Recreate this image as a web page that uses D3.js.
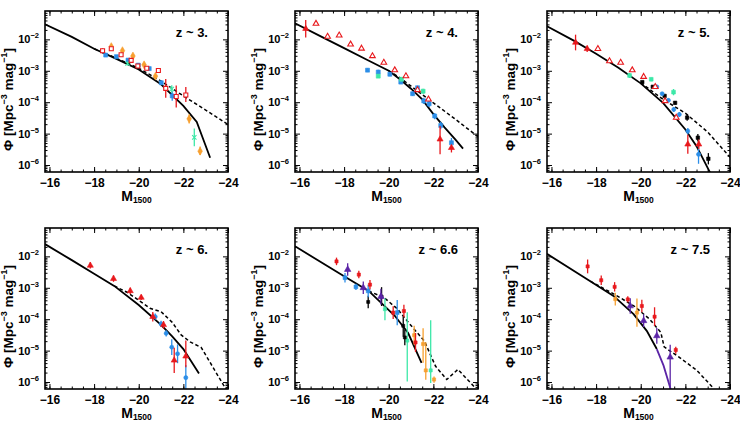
<!DOCTYPE html>
<html>
<head>
<meta charset="utf-8">
<script src="https://cdn.jsdelivr.net/npm/d3@7"></script>
<style>
body { margin: 0; background: #fff; }
text { font-family: "Liberation Sans", Arial, Helvetica, sans-serif; font-weight: bold; }
</style>
</head>
<body>
<div id="chart"></div>
<script>
// panel labels and ticks
var panelLabels = ["z ~ 3.", "z ~ 4.", "z ~ 5.", "z ~ 6.", "z ~ 6.6", "z ~ 7.5"];
var xTicks = [-16, -18, -20, -22, -24];
var xMinorTicks = d3.range(-16, -24.01, -0.5);
var yTickExps = [-2, -3, -4, -5, -6];

// model curves: [M1500, log10 Phi]
var z3Solid = [[-15.8,-1.52],[-17,-1.92],[-18,-2.30],[-19,-2.62],[-20,-2.96],[-21,-3.43],[-22,-4.12],[-22.6,-4.63],[-23.2,-5.77]];
var z3Dashed = [[-18,-2.30],[-19,-2.60],[-20,-2.92],[-21,-3.33],[-22,-3.80],[-23,-4.25],[-24,-4.71]];
var z4Solid = [[-15.8,-1.49],[-17,-1.92],[-18,-2.28],[-19,-2.64],[-20,-3.0],[-20.5,-3.27],[-21,-3.57],[-21.5,-3.91],[-22,-4.38],[-22.5,-4.8],[-23,-5.2],[-23.33,-5.48]];
var z4Dashed = [[-20,-3.0],[-20.5,-3.22],[-21,-3.49],[-22,-4.02],[-23,-4.55],[-24,-5.1]];
var z5Solid = [[-15.8,-1.58],[-17,-2.04],[-18,-2.46],[-19,-2.90],[-20,-3.40],[-21,-4.02],[-22,-4.87],[-22.5,-5.40],[-23.15,-6.3]];
var z5Dashed = [[-20,-3.38],[-21,-3.91],[-22,-4.35],[-23,-4.95],[-23.5,-5.35],[-24,-5.75]];
var z6Solid = [[-15.8,-1.61],[-17,-2.12],[-18,-2.55],[-18.9,-2.94],[-20,-3.55],[-21,-4.18],[-21.5,-4.55],[-22,-4.95],[-22.7,-5.73]];
var z6Dashed = [[-18.9,-2.94],[-19.5,-3.15],[-20,-3.4],[-20.5,-3.65],[-21,-3.76],[-21.5,-4.1],[-21.9,-4.5],[-22.3,-4.72],[-22.8,-4.9],[-23.8,-6.1],[-24,-6.3]];
var z66Solid = [[-15.8,-1.68],[-18,-2.63],[-19.1,-3.1],[-20.27,-3.89],[-20.87,-4.44],[-21.47,-5.39]];
var z66Dashed = [[-19.1,-3.1],[-19.8,-3.32],[-20.4,-3.68],[-20.9,-4.12],[-21.3,-4.45],[-21.6,-4.7],[-22.1,-5.5],[-22.6,-5.92],[-23.1,-5.6],[-23.9,-6.2]];
var z75Solid = [[-15.8,-1.92],[-17.74,-2.79],[-18.78,-3.26],[-19.68,-3.84],[-20.27,-4.37],[-20.72,-4.95]];
var z75Tail = [[-20.72,-4.95],[-21.02,-5.47],[-21.35,-6.25]];
var z75Dashed = [[-17.74,-2.79],[-18.8,-3.2],[-19.7,-3.58],[-20.4,-4.0],[-20.9,-4.42],[-21.05,-4.88],[-21.7,-5.2],[-22.5,-5.62],[-23.2,-6.15]];

// observed points: [M1500, log10 Phi, error down (dex), error up (dex)]
var z3Red = [[-18.38,-2.36,0.08,0.08],[-18.77,-2.30,0.06,0.06],[-19.21,-2.49,0.06,0.06],[-19.66,-2.67,0.06,0.06],[-19.96,-2.85,0.05,0.05],[-20.36,-2.92,0.05,0.05],[-20.88,-2.99,0.05,0.05],[-21.21,-3.56,0.3,0.3],[-21.68,-3.82,0.35,0.35],[-22.11,-3.77,0.22,0.25]];
var z3Orange = [[-18.77,-2.23,0.05,0.05],[-19.27,-2.36,0.05,0.05],[-19.74,-2.53,0.05,0.05],[-20.24,-2.81,0.05,0.05],[-20.75,-3.17,0.06,0.06],[-22.26,-4.53,0.15,0.15],[-22.75,-5.56,0.12,0.15]];
var z3Blue = [[-18.52,-2.50,0.05,0.05],[-19.0,-2.55,0.04,0.04],[-19.52,-2.66,0.05,0.05],[-19.98,-2.82,0.05,0.05],[-20.47,-2.93,0.05,0.05],[-21.01,-3.38,0.07,0.07],[-21.5,-3.80,0.15,0.15]];
var z3Green = [[-19.5,-2.77,0.06,0.06],[-21.48,-3.58,0.12,0.12],[-22.49,-5.12,0.28,0.28]];

var z4RedOpen = [[-16.74,-1.50,0.04,0.04],[-17.26,-1.91,0.04,0.04],[-17.78,-1.87,0.04,0.04],[-18.29,-2.16,0.04,0.04],[-18.78,-2.29,0.04,0.04],[-19.27,-2.53,0.04,0.04],[-19.78,-2.74,0.04,0.04],[-20.27,-2.98,0.04,0.04],[-20.77,-3.17,0.04,0.04],[-21.29,-3.61,0.05,0.05],[-21.78,-3.91,0.06,0.06]];
var z4RedFilled = [[-16.28,-1.66,0.28,0.28],[-22.3,-5.18,0.48,0.42],[-22.81,-5.45,0.15,0.05]];
var z4Blue = [[-19.05,-2.98,0.06,0.06],[-19.53,-3.04,0.07,0.07],[-20.05,-3.11,0.06,0.06],[-20.54,-3.36,0.06,0.06],[-21.07,-3.73,0.07,0.07],[-21.29,-3.54,0.06,0.06],[-21.57,-3.96,0.1,0.1],[-21.81,-4.05,0.1,0.1],[-22.06,-4.44,0.1,0.1],[-22.33,-4.74,0.12,0.12],[-22.81,-5.29,0.15,0.15]];
var z4Green = [[-19.53,-3.17,0.06,0.06],[-20.57,-3.27,0.06,0.06],[-21.54,-3.65,0.08,0.08]];

var z5RedFilled = [[-17.08,-2.10,0.25,0.25],[-17.6,-2.30,0.1,0.1],[-22.11,-5.34,0.3,0.3],[-22.6,-5.34,0.15,0.15]];
var z5RedOpen = [[-18.08,-2.30,0.04,0.04],[-18.6,-2.69,0.04,0.04],[-19.1,-2.74,0.04,0.04],[-19.62,-2.98,0.04,0.04],[-20.13,-3.19,0.04,0.04],[-20.65,-3.51,0.05,0.05],[-21.09,-3.96,0.06,0.06],[-21.59,-4.49,0.08,0.08]];
var z5Green = [[-19.5,-3.15,0.08,0.08],[-20.47,-3.27,0.06,0.06],[-21.47,-3.68,0.1,0.1]];
var z5Black = [[-20.07,-3.36,0.04,0.04],[-20.54,-3.51,0.05,0.05],[-21.07,-3.80,0.05,0.05],[-21.54,-4.02,0.06,0.06],[-22.08,-4.49,0.1,0.1],[-22.56,-5.13,0.12,0.12],[-23.03,-5.80,0.18,0.18]];
var z5Blue = [[-20.72,-3.51,0.05,0.05],[-20.96,-3.73,0.05,0.05],[-21.24,-3.94,0.06,0.06],[-21.48,-4.23,0.08,0.08],[-21.73,-4.39,0.08,0.08],[-22.11,-4.92,0.1,0.1],[-22.59,-5.66,0.3,0.3]];

var z6Red = [[-17.83,-2.29,0.1,0.1],[-18.87,-2.71,0.1,0.1],[-19.62,-3.10,0.1,0.1],[-20.11,-3.31,0.08,0.08],[-20.63,-3.92,0.15,0.15],[-21.11,-4.18,0.12,0.12],[-21.59,-5.31,0.4,0.4],[-22.11,-5.18,0.35,0.5]];
var z6Blue = [[-20.74,-3.92,0.1,0.1],[-21.0,-4.15,0.1,0.1],[-21.23,-4.45,0.1,0.1],[-21.48,-4.89,0.25,0.25],[-21.74,-5.1,0.3,0.3],[-22.11,-5.86,0.4,0.4]];

var z66Red = [[-17.66,-2.16,0.12,0.12],[-18.66,-2.58,0.12,0.12],[-19.16,-2.9,0.15,0.15],[-20.2,-3.79,0.2,0.2],[-20.68,-3.74,0.2,0.2],[-21.2,-4.74,0.3,0.3]];
var z66Purple = [[-18.16,-2.42,0.2,0.2],[-18.86,-3.0,0.2,0.2],[-19.65,-3.28,0.25,0.25]];
var z66Blue = [[-18.04,-2.68,0.15,0.15],[-18.53,-2.97,0.1,0.1],[-19.08,-3.1,0.2,0.2],[-20.38,-3.79,0.4,0.4]];
var z66Black = [[-19.08,-3.45,0.2,0.2],[-19.68,-3.28,0.3,0.3],[-20.65,-4.21,0.35,0.3],[-20.72,-4.58,0.25,0.25]];
var z66Green = [[-19.83,-3.68,0.35,0.35],[-20.83,-4.68,1.3,0.9],[-21.88,-5.63,0.4,1.6]];
var z66Orange = [[-21.14,-4.51,0.3,0.3],[-21.54,-4.79,0.6,0.5],[-21.66,-5.63,0.3,0.9],[-22.03,-5.92,0.1,0.1]];

var z75Red = [[-17.62,-2.32,0.22,0.22],[-18.23,-2.76,0.15,0.15],[-18.83,-2.97,0.15,0.15],[-19.42,-3.37,0.1,0.1],[-20.05,-3.58,0.2,0.2],[-20.62,-3.92,0.3,0.3],[-21.57,-4.98,0.12,0.1]];
var z75Orange = [[-18.86,-3.36,0.2,0.2],[-19.83,-3.79,0.45,0.45]];
var z75Purple = [[-19.53,-3.58,0.25,0.25],[-20.13,-4.05,0.2,0.2],[-20.72,-4.53,0.25,0.25],[-21.32,-5.21,1.1,0.4]];

var red = "#e8181c", orange = "#f7a030", blue = "#2c8ee8", green = "#3de8a8", purple = "#5b24a6", black = "#000";

var panels = [
  {solid: z3Solid, dashed: z3Dashed, series: [
    {data: z3Blue, color: blue, shape: d3.symbolSquare, size: 16},
    {data: z3Green, color: green, shape: d3.symbolX, size: 14, open: true},
    {data: z3Orange, color: orange, shape: d3.symbolDiamond, size: 18},
    {data: z3Red, color: red, shape: d3.symbolSquare, size: 16, open: true}]},
  {solid: z4Solid, dashed: z4Dashed, series: [
    {data: z4Blue, color: blue, shape: d3.symbolSquare, size: 16},
    {data: z4Green, color: green, shape: d3.symbolSquare, size: 16},
    {data: z4RedOpen, color: red, shape: d3.symbolTriangle, size: 14, open: true},
    {data: z4RedFilled, color: red, shape: d3.symbolTriangle, size: 16}]},
  {solid: z5Solid, dashed: z5Dashed, series: [
    {data: z5Green, color: green, shape: d3.symbolSquare, size: 14},
    {data: z5Black, color: black, shape: d3.symbolSquare, size: 12},
    {data: z5Blue, color: blue, shape: d3.symbolCircle, size: 13},
    {data: z5RedOpen, color: red, shape: d3.symbolTriangle, size: 14, open: true},
    {data: z5RedFilled, color: red, shape: d3.symbolTriangle, size: 16}]},
  {solid: z6Solid, dashed: z6Dashed, series: [
    {data: z6Blue, color: blue, shape: d3.symbolCircle, size: 13},
    {data: z6Red, color: red, shape: d3.symbolTriangle, size: 16}]},
  {solid: z66Solid, dashed: z66Dashed, series: [
    {data: z66Green, color: green, shape: d3.symbolSquare, size: 10},
    {data: z66Orange, color: orange, shape: d3.symbolSquare, size: 10},
    {data: z66Black, color: black, shape: d3.symbolSquare, size: 9},
    {data: z66Blue, color: blue, shape: d3.symbolSquare, size: 14},
    {data: z66Purple, color: purple, shape: d3.symbolTriangle, size: 18},
    {data: z66Red, color: red, shape: d3.symbolSquare, size: 10}]},
  {solid: z75Solid, tail: z75Tail, dashed: z75Dashed, series: [
    {data: z75Orange, color: orange, shape: d3.symbolSquare, size: 10},
    {data: z75Purple, color: purple, shape: d3.symbolTriangle, size: 18},
    {data: z75Red, color: red, shape: d3.symbolSquare, size: 10}]}
];

var width = 740, height = 425;
var pw = 183, ph = 161;
var colX = [45, 295, 547], rowY = [11, 228];

var svg = d3.select("#chart")
    .append("svg")
    .attr("width", width)
    .attr("height", height);

var yMinorTicks = [];
for (var e = -7; e <= -1; e++) {
  for (var k = 2; k <= 9; k++) yMinorTicks.push(k * Math.pow(10, e));
}
yMinorTicks = yMinorTicks.filter(function(v) { return v > 6e-7 && v < 8e-2; });

panels.forEach(function(p, i) {
  var g = svg.append("g")
      .attr("transform", "translate(" + colX[i % 3] + "," + rowY[Math.floor(i / 3)] + ")");

  var x = d3.scaleLinear().domain([-15.8, -24]).range([0, pw]);
  var y = d3.scaleLog().domain([6e-7, 8e-2]).range([ph, 0]);

  g.append("clipPath").attr("id", "clip" + i)
    .append("rect").attr("width", pw).attr("height", ph);

  var plot = g.append("g").attr("clip-path", "url(#clip" + i + ")");

  var line = d3.line()
      .x(function(d) { return x(d[0]); })
      .y(function(d) { return y(Math.pow(10, d[1])); });

  plot.append("path").attr("d", line(p.dashed))
      .attr("fill", "none").attr("stroke", "#000")
      .attr("stroke-width", 1.5).attr("stroke-dasharray", "3.5,2.5");
  plot.append("path").attr("d", line(p.solid))
      .attr("fill", "none").attr("stroke", "#000").attr("stroke-width", 1.8);
  if (p.tail) {
    plot.append("path").attr("d", line(p.tail))
        .attr("fill", "none").attr("stroke", purple).attr("stroke-width", 1.8);
  }

  p.series.forEach(function(s) {
    var sg = plot.append("g");
    sg.selectAll("line")
      .data(s.data)
      .enter()
      .append("line")
      .attr("x1", function(d) { return x(d[0]); })
      .attr("x2", function(d) { return x(d[0]); })
      .attr("y1", function(d) { return y(Math.pow(10, d[1] - d[2])); })
      .attr("y2", function(d) { return y(Math.pow(10, d[1] + d[3])); })
      .attr("stroke", s.color)
      .attr("stroke-width", 1.3);
    sg.selectAll("path")
      .data(s.data)
      .enter()
      .append("path")
      .attr("d", d3.symbol().type(s.shape).size(s.size))
      .attr("transform", function(d) {
        return "translate(" + x(d[0]) + "," + y(Math.pow(10, d[1])) + ")";
      })
      .attr("fill", s.open ? "#fff" : s.color)
      .attr("stroke", s.color)
      .attr("stroke-width", s.open ? 1.1 : 0.6);
  });

  // axes, ticks pointing inward on all four sides
  function clean(a) { a.select(".domain").remove(); a.selectAll("line").attr("stroke-width", 1); }

  g.append("g").attr("transform", "translate(0," + ph + ")")
    .call(d3.axisBottom(x).tickValues(xTicks).tickSize(-5).tickPadding(6).tickFormat(d3.format("d")))
    .call(clean)
    .selectAll("text").attr("font-size", 12).attr("fill", "#000")
    .style("font-family", "'Liberation Sans', Arial, sans-serif").style("font-weight", "bold");
  g.append("g").attr("transform", "translate(0," + ph + ")")
    .call(d3.axisBottom(x).tickValues(xMinorTicks).tickSize(-2.5).tickFormat(""))
    .call(clean);
  g.append("g")
    .call(d3.axisTop(x).tickValues(xTicks).tickSize(-5).tickFormat(""))
    .call(clean);
  g.append("g")
    .call(d3.axisTop(x).tickValues(xMinorTicks).tickSize(-2.5).tickFormat(""))
    .call(clean);

  var yMajor = yTickExps.map(function(e) { return Math.pow(10, e); });
  g.append("g")
    .call(d3.axisLeft(y).tickValues(yMajor).tickSize(-5).tickFormat(""))
    .call(clean);
  g.append("g")
    .call(d3.axisLeft(y).tickValues(yMinorTicks).tickSize(-2.5).tickFormat(""))
    .call(clean);
  g.append("g").attr("transform", "translate(" + pw + ",0)")
    .call(d3.axisRight(y).tickValues(yMajor).tickSize(-5).tickFormat(""))
    .call(clean);
  g.append("g").attr("transform", "translate(" + pw + ",0)")
    .call(d3.axisRight(y).tickValues(yMinorTicks).tickSize(-2.5).tickFormat(""))
    .call(clean);

  // y tick labels 10^e
  var yl = g.append("g").selectAll("text")
    .data(yTickExps)
    .enter()
    .append("text")
    .attr("x", -6)
    .attr("y", function(e) { return y(Math.pow(10, e)) + 4; })
    .attr("text-anchor", "end")
    .attr("font-size", 11);
  yl.append("tspan").text("10");
  yl.append("tspan").attr("dy", -5).attr("font-size", 7.5)
    .text(function(e) { return "\u2212" + Math.abs(e); });

  g.append("rect")
    .attr("width", pw).attr("height", ph)
    .attr("fill", "none").attr("stroke", "#000").attr("stroke-width", 1.6);

  // titles
  g.append("text")
    .attr("x", pw - 20).attr("y", 26)
    .attr("text-anchor", "end").attr("font-size", 13)
    .text(panelLabels[i]);

  var xt = g.append("text")
    .attr("x", pw / 2).attr("y", ph + 29)
    .attr("text-anchor", "middle").attr("font-size", 14);
  xt.append("tspan").text("M");
  xt.append("tspan").attr("font-size", 8.5).attr("dy", 2).text("1500");

  var yt = g.append("text")
    .attr("transform", "translate(-32," + (ph / 2 + 8) + ") rotate(-90)")
    .attr("text-anchor", "middle").attr("font-size", 13.5);
  yt.append("tspan").text("\u03a6  [Mpc");
  yt.append("tspan").attr("font-size", 9).attr("dy", -6).text("\u22123");
  yt.append("tspan").attr("dy", 6).text(" mag");
  yt.append("tspan").attr("font-size", 9).attr("dy", -6).text("\u22121");
  yt.append("tspan").attr("dy", 6).text("]");
});
</script>
</body>
</html>
